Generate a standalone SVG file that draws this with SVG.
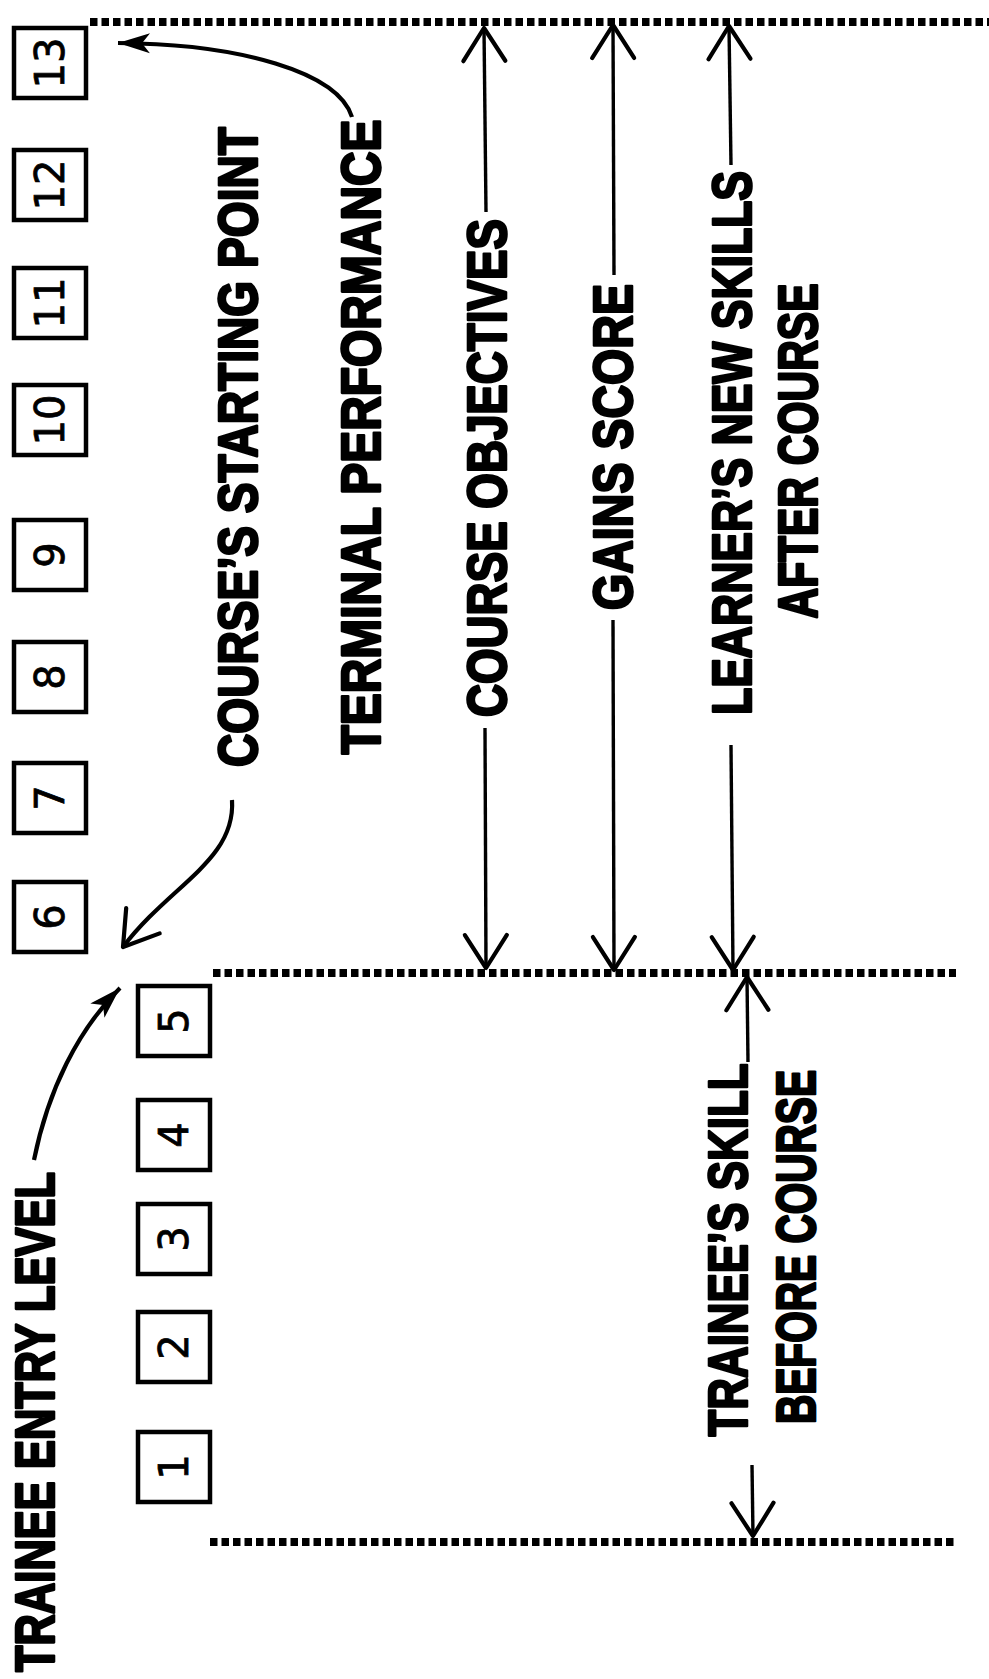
<svg xmlns="http://www.w3.org/2000/svg" width="989" height="1679" viewBox="0 0 989 1679">
<style>
.box{fill:#fff;stroke:#000;stroke-width:4.5}
.dig{font-family:"DejaVu Sans","Liberation Sans",sans-serif;font-size:40px;fill:#000;stroke:#000;stroke-width:0.8;text-anchor:middle}
.lbl{font-family:"Liberation Sans",Arial,sans-serif;font-weight:bold;font-size:55px;fill:#000;stroke:#000;stroke-width:2.6;stroke-linejoin:round;text-anchor:middle}
.dots{fill:none;stroke:#000;stroke-width:8;stroke-dasharray:7.5 4}
.ln{fill:none;stroke:#000;stroke-width:3.4}
.cv{fill:none;stroke:#000;stroke-width:4.2}
</style>
<defs>
<marker id="vh" viewBox="0 0 42 52" refX="39" refY="26" markerWidth="42" markerHeight="52" markerUnits="userSpaceOnUse" orient="auto">
<path d="M6,5 L39,26 L6,47" fill="none" stroke="#000" stroke-width="4.2" stroke-linecap="round" stroke-linejoin="round"/>
</marker>
<marker id="fh" viewBox="0 0 34 24" refX="32" refY="12" markerWidth="34" markerHeight="24" markerUnits="userSpaceOnUse" orient="auto">
<path d="M0,2 L32,12 L0,22 L8,12 z" fill="#000"/>
</marker>
</defs>
<rect width="989" height="1679" fill="#fff"/>

<g id="levels">
<line class="dots" x1="90" y1="22" x2="989" y2="22"/>
<line class="dots" x1="213" y1="973" x2="956" y2="973"/>
<line class="dots" x1="210" y1="1542" x2="956" y2="1542"/>
</g>

<g id="box13"><rect class="box" x="14" y="28" width="72" height="70"/><text class="dig" transform="translate(64,63) rotate(-90)">13</text></g>
<g id="box12"><rect class="box" x="14" y="150" width="72" height="70"/><text class="dig" transform="translate(64,185) rotate(-90)">12</text></g>
<g id="box11"><rect class="box" x="14" y="268" width="72" height="70"/><text class="dig" transform="translate(64,303) rotate(-90)">11</text></g>
<g id="box10"><rect class="box" x="14" y="385" width="72" height="70"/><text class="dig" transform="translate(64,420) rotate(-90)">10</text></g>
<g id="box9"><rect class="box" x="14" y="520" width="72" height="70"/><text class="dig" transform="translate(64,555) rotate(-90)">9</text></g>
<g id="box8"><rect class="box" x="14" y="642" width="72" height="70"/><text class="dig" transform="translate(64,677) rotate(-90)">8</text></g>
<g id="box7"><rect class="box" x="14" y="763" width="72" height="70"/><text class="dig" transform="translate(64,798) rotate(-90)">7</text></g>
<g id="box6"><rect class="box" x="14" y="882" width="72" height="70"/><text class="dig" transform="translate(64,917) rotate(-90)">6</text></g>
<g id="box5"><rect class="box" x="138" y="986" width="72" height="70"/><text class="dig" transform="translate(188,1021) rotate(-90)">5</text></g>
<g id="box4"><rect class="box" x="138" y="1100" width="72" height="70"/><text class="dig" transform="translate(188,1135) rotate(-90)">4</text></g>
<g id="box3"><rect class="box" x="138" y="1204" width="72" height="70"/><text class="dig" transform="translate(188,1239) rotate(-90)">3</text></g>
<g id="box2"><rect class="box" x="138" y="1312" width="72" height="70"/><text class="dig" transform="translate(188,1347) rotate(-90)">2</text></g>
<g id="box1"><rect class="box" x="138" y="1432" width="72" height="70"/><text class="dig" transform="translate(188,1467) rotate(-90)">1</text></g>

<g id="label-entry"><text class="lbl" transform="translate(54,1422) rotate(-90)" textLength="500" lengthAdjust="spacingAndGlyphs">TRAINEE ENTRY LEVEL</text></g>
<g id="label-start"><text class="lbl" transform="translate(257,447) rotate(-90)" textLength="640" lengthAdjust="spacingAndGlyphs">COURSE’S STARTING POINT</text></g>
<g id="label-terminal"><text class="lbl" transform="translate(380,437) rotate(-90)" textLength="635" lengthAdjust="spacingAndGlyphs">TERMINAL PERFORMANCE</text></g>
<g id="label-objectives"><text class="lbl" transform="translate(506,468) rotate(-90)" textLength="498" lengthAdjust="spacingAndGlyphs">COURSE OBJECTIVES</text></g>
<g id="label-gains"><text class="lbl" transform="translate(632,447) rotate(-90)" textLength="326" lengthAdjust="spacingAndGlyphs">GAINS SCORE</text></g>
<g id="label-after"><text class="lbl" transform="translate(751,443) rotate(-90)" textLength="544" lengthAdjust="spacingAndGlyphs">LEARNER’S NEW SKILLS</text><text class="lbl" transform="translate(817,451) rotate(-90)" textLength="335" lengthAdjust="spacingAndGlyphs">AFTER COURSE</text></g>
<g id="label-before"><text class="lbl" transform="translate(747,1250) rotate(-90)" textLength="373" lengthAdjust="spacingAndGlyphs">TRAINEE’S SKILL</text><text class="lbl" transform="translate(815,1247) rotate(-90)" textLength="354" lengthAdjust="spacingAndGlyphs">BEFORE COURSE</text></g>

<g id="connectors">
<path class="cv" d="M352,117 C338,72 240,44 118,43" marker-end="url(#fh)"/>
<path class="cv" d="M34,1160 C48,1090 78,1030 120,988" marker-end="url(#fh)"/>
<path class="cv" d="M232,800 C236,860 170,885 123,947" marker-end="url(#vh)"/>
<path class="ln" d="M486,212 L484,28" marker-end="url(#vh)"/>
<path class="ln" d="M485,728 L486,968" marker-end="url(#vh)"/>
<path class="ln" d="M614,275 L613,25" marker-end="url(#vh)"/>
<path class="ln" d="M613,620 L614,970" marker-end="url(#vh)"/>
<path class="ln" d="M731,165 L729,26" marker-end="url(#vh)"/>
<path class="ln" d="M731,745 L733,970" marker-end="url(#vh)"/>
<path class="ln" d="M748,1062 L747,977" marker-end="url(#vh)"/>
<path class="ln" d="M752,1465 L753,1536" marker-end="url(#vh)"/>
</g>
</svg>
